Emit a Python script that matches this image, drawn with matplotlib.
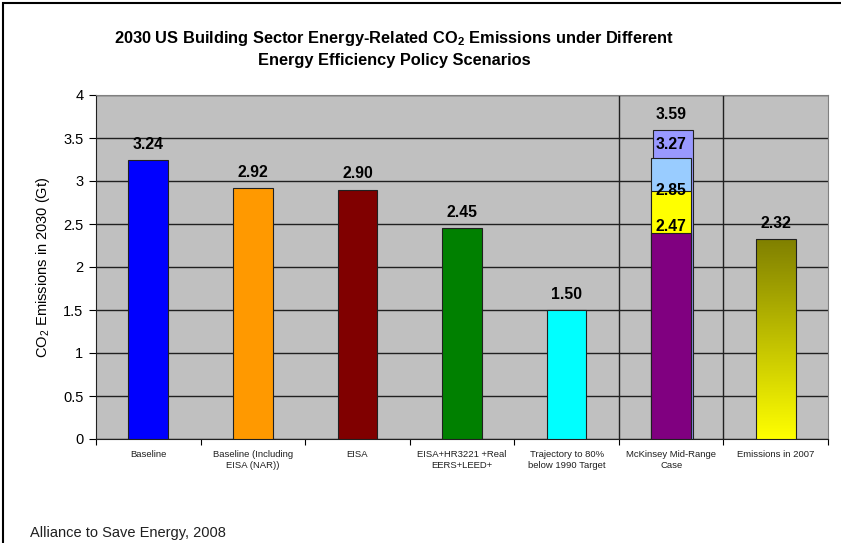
import numpy as np
import matplotlib
matplotlib.use("Agg")
import matplotlib.pyplot as plt
from matplotlib.patches import Rectangle
from matplotlib.colors import LinearSegmentedColormap

plt.rcParams['font.family'] = ['Liberation Sans', 'DejaVu Sans']
plt.rcParams['mathtext.fontset'] = 'custom'
plt.rcParams['mathtext.rm'] = 'Liberation Sans'
plt.rcParams['mathtext.bf'] = 'Liberation Sans:bold'

# ---- data ----
categories = ["Baseline", "Baseline (Including\nEISA (NAR))", "EISA",
              "EISA+HR3221 +Real\nEERS+LEED+", "Trajectory to 80%\nbelow 1990 Target",
              "McKinsey Mid-Range\nCase", "Emissions in 2007"]
simple_values = [3.24, 2.92, 2.90, 2.45, 1.50]
simple_colors = ["#0000FF", "#FF9900", "#800000", "#008000", "#00FFFF"]
# McKinsey overlapping bars (drawn tops, back to front)
mck_values = [3.59, 3.27, 2.88, 2.40]
mck_labels = ["3.59", "3.27", "2.85", "2.47"]
mck_colors = ["#9999FF", "#99CCFF", "#FFFF00", "#800080"]
em2007 = 2.32
yticks = [0, 0.5, 1, 1.5, 2, 2.5, 3, 3.5, 4]

W, H = 841, 543
fig = plt.figure(figsize=(W / 100, H / 100), dpi=100)
ax = fig.add_axes([96 / W, 1 - 439 / H, (828 - 96) / W, (439 - 95) / H])
ax.set_facecolor("#C0C0C0")
ax.set_xlim(0, 7)
ax.set_ylim(0, 4)
ax.set_axisbelow(True)
ax.yaxis.grid(True, color="#202020", linewidth=1.0)
for x in [5, 6]:
    ax.axvline(x, color="#202020", linewidth=1.0, zorder=1)

bw = 0.38
lab_fs = 11.3
xs = np.arange(len(categories)) + 0.5
ax.bar(xs[:5], simple_values, width=bw, color=simple_colors,
       edgecolor="#202020", linewidth=0.8, zorder=3)
for x, v in zip(xs[:5], simple_values):
    ax.annotate(f"{v:.2f}", (x, v), xytext=(0, 6), textcoords="offset points",
                ha="center", va="bottom", fontsize=lab_fs, fontweight="bold")

# McKinsey
offsets = [0.02, 0, 0, 0]
lab_off = [6, 4, -5, -1]
for v, c, o in zip(mck_values, mck_colors, offsets):
    ax.bar(xs[5] + o, v, width=bw, color=c, edgecolor="#202020",
           linewidth=0.8, zorder=3)
for v, lab, lo in zip(mck_values, mck_labels, lab_off):
    ax.annotate(lab, (xs[5], v), xytext=(0, lo), textcoords="offset points",
                ha="center", va="bottom", fontsize=lab_fs, fontweight="bold", zorder=5)

# 2007 gradient bar
bars = ax.bar(xs[6], em2007, width=bw, color="none", edgecolor="#202020",
              linewidth=0.8, zorder=4)
p = bars[0]
grad = np.linspace(0, 1, 256).reshape(-1, 1)
cmap = LinearSegmentedColormap.from_list("oy", ["#FFFF00", "#808000"])
im = ax.imshow(grad, cmap=cmap, aspect="auto", origin="lower",
               extent=[xs[6] - bw / 2, xs[6] + bw / 2, 0, em2007], zorder=3)
im.set_clip_path(p)
ax.set_xlim(0, 7)
ax.set_ylim(0, 4)
ax.annotate(f"{em2007:.2f}", (xs[6], em2007), xytext=(0, 6), textcoords="offset points",
            ha="center", va="bottom", fontsize=lab_fs, fontweight="bold")

# axes styling
ax.set_yticks(yticks)
ax.set_yticklabels([f"{t:g}" for t in yticks], fontsize=10.5)
ax.set_xticks(np.arange(0, 8))
ax.set_xticklabels([])
ax.set_xticks(xs, minor=True)
ax.set_xticklabels(categories, minor=True, fontsize=6.8, color="#202020")
ax.tick_params(axis="x", which="minor", length=0, pad=8)
ax.tick_params(axis="x", which="major", length=4, direction="out")
ax.tick_params(axis="y", length=5, direction="out", pad=4)
for s in ["top", "right"]:
    ax.spines[s].set_color("#808080")
for s in ["left", "bottom"]:
    ax.spines[s].set_color("#202020")

ax.set_ylabel("CO$_2$ Emissions in 2030 (Gt)", fontsize=10.5, labelpad=8)

fig.text(394 / W, 1 - 39 / H,
         "2030 US Building Sector Energy-Related CO$_\\mathbf{2}$ Emissions under Different",
         ha="center", va="center", fontsize=11.8, fontweight="bold")
fig.text(394 / W, 1 - 61 / H, "Energy Efficiency Policy Scenarios",
         ha="center", va="center", fontsize=11.8, fontweight="bold")
fig.text(30 / W, 1 - 533 / H, "Alliance to Save Energy, 2008",
         ha="left", va="center", fontsize=10.5, color="#202020")

# outer frame
fig.add_artist(Rectangle((3 / W, -0.01), 1.0, 1 - 3 / H + 0.01, transform=fig.transFigure,
                         fill=False, edgecolor="black", linewidth=1.5))

fig.savefig("out.png", dpi=100)
